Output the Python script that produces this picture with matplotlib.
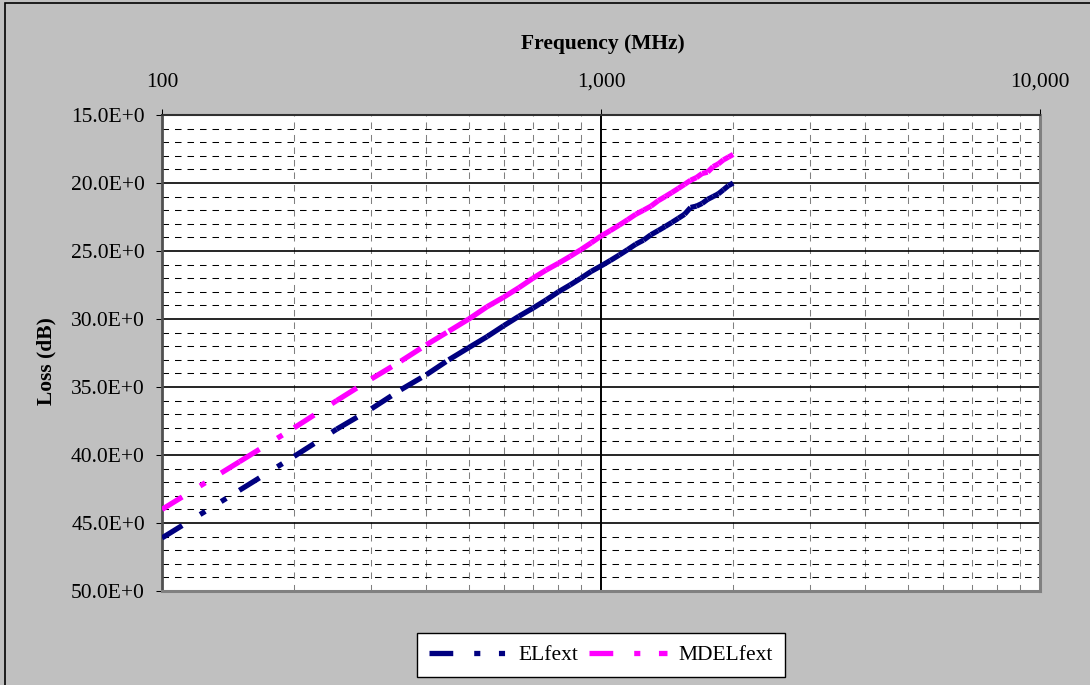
import matplotlib
matplotlib.use("Agg")
import matplotlib.pyplot as plt
from matplotlib.lines import Line2D
from matplotlib.patches import Rectangle
from matplotlib.ticker import FixedLocator, MultipleLocator, LogLocator, NullFormatter, FuncFormatter
import numpy as np

plt.rcParams['font.family'] = ['Liberation Serif', 'DejaVu Serif']
plt.rcParams['lines.scale_dashes'] = False

# swept frequency points (MHz)
freq_mhz = [100, 150, 200, 250, 300, 350, 400, 450, 500, 550,
            600, 650, 700, 750, 800, 850, 900, 950, 1000, 1050,
            1100, 1150, 1200, 1250, 1300, 1350, 1400, 1450, 1500, 1550,
            1600, 1650, 1700, 1750, 1800, 1850, 1900, 1950, 2000]

# far-end crosstalk loss (dB)
elfext = [46.1, 42.6, 40.1, 38.1, 36.6, 35.2, 34.1, 33.0, 32.1, 31.3,
          30.5, 29.8, 29.2, 28.6, 28.0, 27.5, 27.0, 26.5, 26.1, 25.7,
          25.3, 24.9, 24.5, 24.2, 23.8, 23.5, 23.2, 22.9, 22.6, 22.3,
          21.8, 21.7, 21.5, 21.2, 21.0, 20.8, 20.5, 20.2, 20.0]
mdelfext = [44.0, 40.5, 38.0, 36.0, 34.4, 33.1, 31.9, 30.9, 30.0, 29.1,
            28.4, 27.7, 27.0, 26.4, 25.9, 25.4, 24.9, 24.4, 23.9, 23.5,
            23.1, 22.7, 22.3, 22.0, 21.7, 21.3, 21.0, 20.7, 20.4, 20.1,
            19.8, 19.6, 19.3, 19.2, 18.8, 18.6, 18.3, 18.1, 17.9]

series_names = ['ELfext', 'MDELfext']
series_colors = ['#000080', '#FF00FF']
x_tick_vals = [100, 1000, 10000]
x_tick_text = ['100', '1,000', '10,000']

W, H = 1090, 685
fig = plt.figure(figsize=(W / 100, H / 100), dpi=100, facecolor='#C0C0C0')
ax = fig.add_axes([162 / W, 1 - 591 / H, 878 / W, 476 / H])
ax.set_facecolor('white')

# dash patterns in points (long dash-dot-dot / long dash-dot)
dash_el = (17.1, 15.1, 4.4, 13.4, 4.4, 12.5)
dash_md = (17.1, 15.1, 4.4, 13.4)
lw = 3.8

# each segment is stroked on its own so the dash pattern restarts at every point
for ys, col, dsh in [(elfext, series_colors[0], dash_el), (mdelfext, series_colors[1], dash_md)]:
    for i in range(len(freq_mhz) - 1):
        ax.plot(freq_mhz[i:i + 2], ys[i:i + 2], color=col, lw=lw,
                dashes=dsh, dash_capstyle='butt', zorder=3)

ax.set_xscale('log')
ax.set_xlim(100, 10000)
ax.set_ylim(50, 15)

ax.xaxis.tick_top()
ax.xaxis.set_major_locator(FixedLocator(x_tick_vals))
ax.set_xticklabels(x_tick_text)
ax.xaxis.set_minor_locator(LogLocator(base=10, subs=np.arange(2, 10)))
ax.xaxis.set_minor_formatter(NullFormatter())

ax.yaxis.set_major_locator(MultipleLocator(5))
ax.yaxis.set_minor_locator(MultipleLocator(1))
ax.yaxis.set_major_formatter(FuncFormatter(lambda v, p: f'{v:.1f}E+0'))

ax.tick_params(axis='x', which='major', top=True, bottom=False, direction='out',
               length=4.3, width=0.75, pad=12.5, labelsize=15.5, colors='black')
ax.tick_params(axis='y', which='major', left=True, direction='out',
               length=4.3, width=0.75, pad=8, labelsize=15.5)
ax.tick_params(which='minor', length=0)

grid_dash = (0, (4.7, 4.3))
ax.yaxis.grid(True, which='major', color='black', lw=1.2, ls='-')
ax.yaxis.grid(True, which='minor', color='black', lw=0.75, ls=grid_dash)
ax.xaxis.grid(True, which='major', color='black', lw=1.4, ls='-')
ax.xaxis.grid(True, which='minor', color='#808080', lw=0.75, ls=grid_dash)
ax.set_axisbelow(True)

ax.spines['left'].set_color('#505050')
ax.spines['left'].set_linewidth(2.0)
ax.spines['top'].set_color('#303030')
ax.spines['top'].set_linewidth(1.5)
for s in ['right', 'bottom']:
    ax.spines[s].set_color('#808080')
    ax.spines[s].set_linewidth(2.2)

fig.text(603 / W, 1 - 49 / H, 'Frequency (MHz)', ha='center', va='baseline',
         fontsize=15.5, fontweight='bold')
fig.text(46 / W, 1 - 361 / H, 'Loss (dB)', ha='center', va='center',
         rotation=90, fontsize=15.5, fontweight='bold')

handles = [Line2D([], [], color=series_colors[0], lw=lw, dashes=dash_el, dash_capstyle='butt'),
           Line2D([], [], color=series_colors[1], lw=lw, dashes=dash_md, dash_capstyle='butt')]
leg = fig.legend(handles, series_names, loc='center', bbox_to_anchor=(601 / W, 1 - 655 / H),
                 ncol=2, fontsize=15.5, frameon=True, fancybox=False, shadow=False,
                 handlelength=3.6, handletextpad=0.55, columnspacing=0.5,
                 borderpad=0.55, borderaxespad=0)
leg.get_frame().set_edgecolor('black')
leg.get_frame().set_linewidth(1.0)
leg.get_frame().set_facecolor('white')
leg.get_frame().set_alpha(1)

# chart area outline
fig.patches.append(Rectangle((5 / W, -0.2), 1.3, 1.2 - 3 / H, transform=fig.transFigure,
                             fill=False, edgecolor='black', lw=1.2))

fig.savefig('out.png', dpi=100, facecolor=fig.get_facecolor())
